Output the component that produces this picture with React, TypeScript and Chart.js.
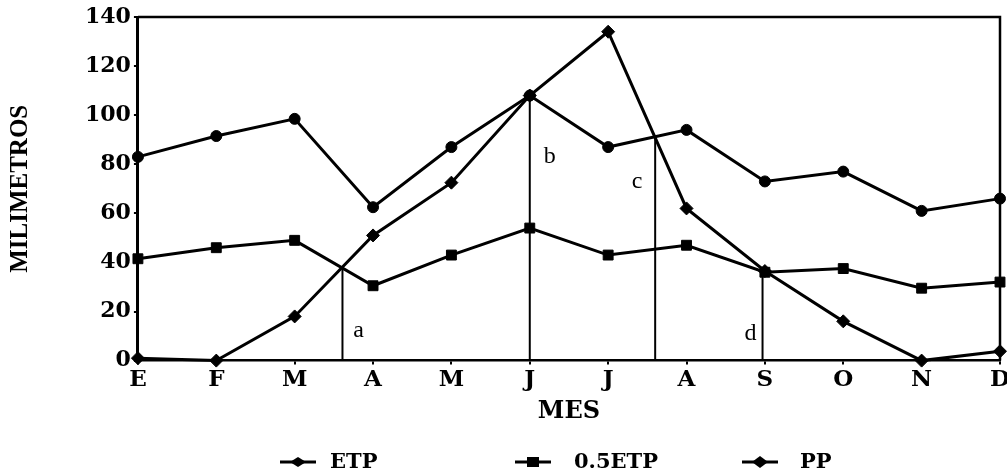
import React, { useEffect, useRef } from 'react';
import { Chart, registerables } from 'chart.js';

Chart.register(...registerables);

// ---- data ----
const months = ['E', 'F', 'M', 'A', 'M', 'J', 'J', 'A', 'S', 'O', 'N', 'D'];
const etp = [83, 91.5, 98.5, 62.5, 87, 108, 87, 94, 73, 77, 61, 66];
const halfEtp = [41.5, 46, 49, 30.5, 43, 54, 43, 47, 36, 37.5, 29.5, 32];
const pp = [1, 0, 18, 51, 72.5, 108, 134, 62, 36.5, 16, 0, 3.8];
const yTicks = [0, 20, 40, 60, 80, 100, 120, 140];

// drop lines (month-position, value) and their letters
const dropX = [2.61, 5, 6.6, 7.97];
const dropTop = [38, 108, 91, 36.5];
const dropLetters = ['a', 'b', 'c', 'd'];
const letterY = [12, 83, 73, 11];

const legendLabels = ['ETP', '0.5ETP', 'PP'];

const TICK_FONT = 'DejaVu Serif';

const framePlugin = {
  id: 'frameAndNotes',
  afterDraw(chart: any) {
    const { ctx, chartArea } = chart;
    const xs = chart.scales.x;
    const ys = chart.scales.y;
    ctx.save();
    // top and right frame lines
    ctx.strokeStyle = '#000';
    ctx.lineWidth = 2.5;
    ctx.beginPath();
    ctx.moveTo(chartArea.left, chartArea.top);
    ctx.lineTo(chartArea.right, chartArea.top);
    ctx.lineTo(chartArea.right, chartArea.bottom);
    ctx.stroke();

    // letters beside drop lines
    const letterDx = [16, 20, -18, -12];
    ctx.fillStyle = '#000';
    ctx.font = '24px "Liberation Serif"';
    ctx.textAlign = 'center';
    ctx.textBaseline = 'middle';
    dropLetters.forEach((l, i) => {
      const px = xs.getPixelForValue(dropX[i]) + letterDx[i];
      const py = ys.getPixelForValue(letterY[i]);
      ctx.fillText(l, px, py);
    });

    // legend
    const cy = chart.height - 14;
    const centers = [298, 533, 760];
    const textX = [330, 574, 800];
    const styles = ['ellipse', 'rect', 'diamond'];
    ctx.font = `bold 21px "${TICK_FONT}"`;
    ctx.textAlign = 'left';
    legendLabels.forEach((lab, i) => {
      const cx = centers[i];
      ctx.lineWidth = 3;
      ctx.beginPath();
      ctx.moveTo(cx - 18, cy);
      ctx.lineTo(cx + 18, cy);
      ctx.stroke();
      ctx.beginPath();
      if (styles[i] === 'ellipse') {
        ctx.moveTo(cx - 8, cy);
        ctx.lineTo(cx, cy - 5);
        ctx.lineTo(cx + 8, cy);
        ctx.lineTo(cx, cy + 5);
        ctx.closePath();
      } else if (styles[i] === 'rect') {
        ctx.rect(cx - 6, cy - 5, 12, 10);
      } else {
        ctx.moveTo(cx - 8, cy);
        ctx.lineTo(cx, cy - 6);
        ctx.lineTo(cx + 8, cy);
        ctx.lineTo(cx, cy + 6);
        ctx.closePath();
      }
      ctx.fill();
      ctx.fillText(lab, textX[i], cy + 1);
    });
    ctx.restore();
  },
};

export default function App() {
  const ref = useRef<HTMLCanvasElement | null>(null);

  useEffect(() => {
    document.body.style.margin = '0';
    const canvas = ref.current;
    if (!canvas) return;

    const toXY = (arr: number[]) => arr.map((v, i) => ({ x: i, y: v }));
    const seriesCommon = {
      borderColor: '#000',
      backgroundColor: '#000',
      pointBackgroundColor: '#000',
      pointBorderColor: '#000',
      borderWidth: 3,
      tension: 0,
      clip: false as any,
    };

    const datasets: any[] = [
      { ...seriesCommon, label: 'ETP', data: toXY(etp), pointStyle: 'circle', pointRadius: 5.5, pointBorderWidth: 1 },
      { ...seriesCommon, label: '0.5ETP', data: toXY(halfEtp), pointStyle: 'rect', pointRadius: 7, pointBorderWidth: 1 },
      { ...seriesCommon, label: 'PP', data: toXY(pp), pointStyle: 'rectRot', pointRadius: 6.5, pointBorderWidth: 1 },
      ...dropX.map((x, i) => ({
        label: 'drop ' + dropLetters[i],
        data: [
          { x, y: 0 },
          { x, y: dropTop[i] },
        ],
        borderColor: '#000',
        borderWidth: 2,
        pointRadius: 0,
        clip: false,
      })),
    ];

    const chart = new Chart(canvas, {
      type: 'line',
      data: { datasets },
      options: {
        responsive: false,
        animation: false,
        devicePixelRatio: 1,
        layout: {
          autoPadding: false,
          padding: { left: 0, top: 17, right: 7, bottom: 50 },
        } as any,
        plugins: {
          legend: { display: false },
          tooltip: { enabled: false },
        },
        scales: {
          x: {
            type: 'linear',
            min: 0,
            max: months.length - 1,
            afterFit: (s: any) => {
              s.paddingRight = 0;
              s.paddingLeft = 0;
            },
            ticks: {
              stepSize: 1,
              autoSkip: false,
              maxRotation: 0,
              padding: 2,
              color: '#000',
              font: { family: TICK_FONT, weight: 'bold', size: 23 },
              callback: (v: any) => months[v as number] ?? '',
            },
            grid: {
              display: true,
              drawOnChartArea: false,
              drawTicks: true,
              tickLength: 4,
              color: '#000',
              lineWidth: 2,
            },
            border: { display: true, color: '#000', width: 2.5 },
            title: {
              display: true,
              text: 'MES',
              color: '#000',
              font: { family: TICK_FONT, weight: 'bold', size: 24 },
              padding: { top: 1, bottom: 0 },
            },
          },
          y: {
            type: 'linear',
            min: yTicks[0],
            max: yTicks[yTicks.length - 1],
            afterBuildTicks: (scale: any) => {
              scale.ticks = yTicks.map((v) => ({ value: v }));
            },
            ticks: {
              padding: 3,
              color: '#000',
              font: { family: TICK_FONT, weight: 'bold', size: 22 },
            },
            grid: {
              display: true,
              drawOnChartArea: false,
              drawTicks: true,
              tickLength: 4,
              color: '#000',
              lineWidth: 2,
            },
            border: { display: true, color: '#000', width: 3 },
            title: {
              display: true,
              text: 'MILIMETROS',
              color: '#000',
              font: { family: 'Liberation Serif', weight: 'bold', size: 25 },
              padding: { top: 6, bottom: 46 },
            },
          },
        },
      } as any,
      plugins: [framePlugin],
    });

    return () => chart.destroy();
  }, []);

  return (
    <div style={{ width: 1007, height: 476, background: '#fff' }}>
      <canvas ref={ref} width={1007} height={476} style={{ display: 'block' }} />
    </div>
  );
}
